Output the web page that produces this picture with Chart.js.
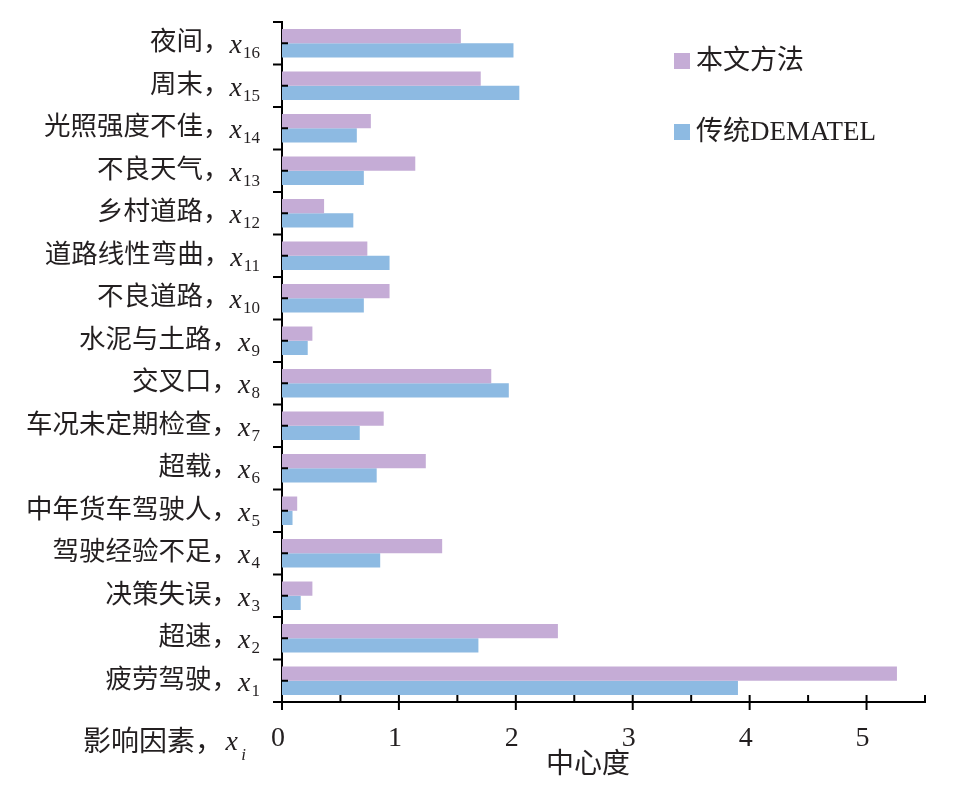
<!DOCTYPE html>
<html>
<head>
<meta charset="utf-8">
<script src="https://cdn.jsdelivr.net/npm/chart.js@4"></script>
<style>
    body { margin: 0; background: #fff; }
    #wrap { width: 976px; height: 795px; }
</style>
</head>
<body>
<div id="wrap"><canvas id="centralityChart" width="976" height="795"></canvas></div>
<script>
// factors, bottom (x1) to top (x16)
var categories = ['疲劳驾驶', '超速', '决策失误', '驾驶经验不足', '中年货车驾驶人', '超载', '车况未定期检查',
    '交叉口', '水泥与土路', '不良道路', '道路线性弯曲', '乡村道路', '不良天气', '光照强度不佳', '周末', '夜间'];
var subscripts = ['1', '2', '3', '4', '5', '6', '7', '8', '9', '10', '11', '12', '13', '14', '15', '16'];
var proposedValues = [5.26, 2.36, 0.26, 1.37, 0.13, 1.23, 0.87, 1.79, 0.26, 0.92, 0.73, 0.36, 1.14, 0.76, 1.70, 1.53];
var dematelValues = [3.90, 1.68, 0.16, 0.84, 0.09, 0.81, 0.665, 1.94, 0.22, 0.70, 0.92, 0.61, 0.70, 0.64, 2.03, 1.98];
var seriesNames = ['本文方法', '传统DEMATEL'];
var xMax = 5.5;
var xStep = 0.5;

var textColor = '#231f20';
var cjk = '"Liberation Serif", "Noto Sans CJK SC", serif';

// axis ticks, category labels with subscripts, legend and titles
var decorPlugin = {
    id: 'decor',
    afterDatasetsDraw: function (chart) {
        var ctx = chart.ctx;
        var xs = chart.scales.x;
        var ys = chart.scales.y;
        var area = chart.chartArea;
        ctx.save();
        ctx.strokeStyle = '#000';
        ctx.lineWidth = 2;

        // x ticks: integers cross the axis, halves point inward
        xs.ticks.forEach(function (t) {
            var px = xs.getPixelForValue(t.value);
            ctx.beginPath();
            ctx.moveTo(px, area.bottom - 7);
            ctx.lineTo(px, Number.isInteger(t.value) ? area.bottom + 8 : area.bottom);
            ctx.stroke();
        });

        // y ticks: boundaries outward, centers inward
        var n = chart.data.labels.length;
        for (var i = 0; i <= n; i++) {
            var py = ys.getPixelForValue(i - 0.5);
            ctx.beginPath();
            ctx.moveTo(area.left - 9, py);
            ctx.lineTo(area.left, py);
            ctx.stroke();
        }
        for (var j = 0; j < n; j++) {
            var pc = ys.getPixelForValue(j);
            ctx.beginPath();
            ctx.moveTo(area.left, pc);
            ctx.lineTo(area.left + 6, pc);
            ctx.stroke();
        }

        ctx.fillStyle = textColor;

        // category labels: 名称，x_k
        chart.data.labels.forEach(function (label, k) {
            var py = ys.getPixelForValue(k);
            var right = area.left - 22;
            ctx.textAlign = 'right';
            ctx.textBaseline = 'alphabetic';
            ctx.font = '17px "Liberation Serif", serif';
            ctx.fillText(subscripts[k], right, py + 15);
            var subW = ctx.measureText(subscripts[k]).width;
            ctx.font = 'italic 28px "Liberation Serif", serif';
            var xRight = right - subW - 1;
            ctx.fillText('x', xRight, py + 10);
            var xW = ctx.measureText('x').width;
            ctx.font = '26.5px ' + cjk;
            ctx.textBaseline = 'middle';
            ctx.fillText(label + '，', xRight - xW, py);
        });

        // y axis caption at bottom left
        ctx.textAlign = 'right';
        ctx.textBaseline = 'alphabetic';
        ctx.font = 'italic 17px "Liberation Serif", serif';
        ctx.fillText('i', 246, 760);
        ctx.font = 'italic 28px "Liberation Serif", serif';
        ctx.fillText('x', 238, 750);
        ctx.font = '28px ' + cjk;
        ctx.textBaseline = 'middle';
        ctx.fillText('影响因素，', 223, 744);

        // x axis title
        ctx.textAlign = 'center';
        ctx.font = '28px ' + cjk;
        ctx.fillText('中心度', 588, 766);

        // legend
        var legendY = [61, 132];
        chart.data.datasets.forEach(function (ds, k) {
            ctx.fillStyle = ds.backgroundColor;
            ctx.fillRect(674, legendY[k] - 8, 16, 16);
            ctx.fillStyle = textColor;
            ctx.textAlign = 'left';
            ctx.textBaseline = 'middle';
            ctx.font = '27px ' + cjk;
            ctx.fillText(ds.label, 696, legendY[k] + 1);
        });
        ctx.restore();
    }
};

var ctx = document.getElementById('centralityChart').getContext('2d');
new Chart(ctx, {
    type: 'bar',
    data: {
        labels: categories,
        datasets: [{
            label: seriesNames[0],
            data: proposedValues,
            backgroundColor: '#c5acd6',
            borderWidth: 0
        }, {
            label: seriesNames[1],
            data: dematelValues,
            backgroundColor: '#8dbae2',
            borderWidth: 0
        }]
    },
    options: {
        indexAxis: 'y',
        responsive: false,
        animation: false,
        devicePixelRatio: 1,
        layout: {
            padding: { left: 282, right: 51, top: 22, bottom: 0 }
        },
        datasets: {
            bar: { categoryPercentage: 0.67, barPercentage: 1.0 }
        },
        plugins: {
            legend: { display: false },
            tooltip: { enabled: false }
        },
        scales: {
            x: {
                min: 0,
                max: xMax,
                grid: { display: false },
                border: { display: true, color: '#000', width: 2 },
                ticks: {
                    stepSize: xStep,
                    padding: 12,
                    labelOffset: -4,
                    color: textColor,
                    font: { family: '"Liberation Serif", serif', size: 28, lineHeight: 1.2 },
                    callback: function (value) {
                        return Number.isInteger(value) ? String(value) : '';
                    }
                },
                afterFit: function (scale) { scale.height = 93; }
            },
            y: {
                reverse: true,
                grid: { display: false },
                border: { display: true, color: '#000', width: 2 },
                ticks: { display: false },
                afterFit: function (scale) { scale.width = 0; }
            }
        }
    },
    plugins: [decorPlugin]
});
</script>
</body>
</html>
